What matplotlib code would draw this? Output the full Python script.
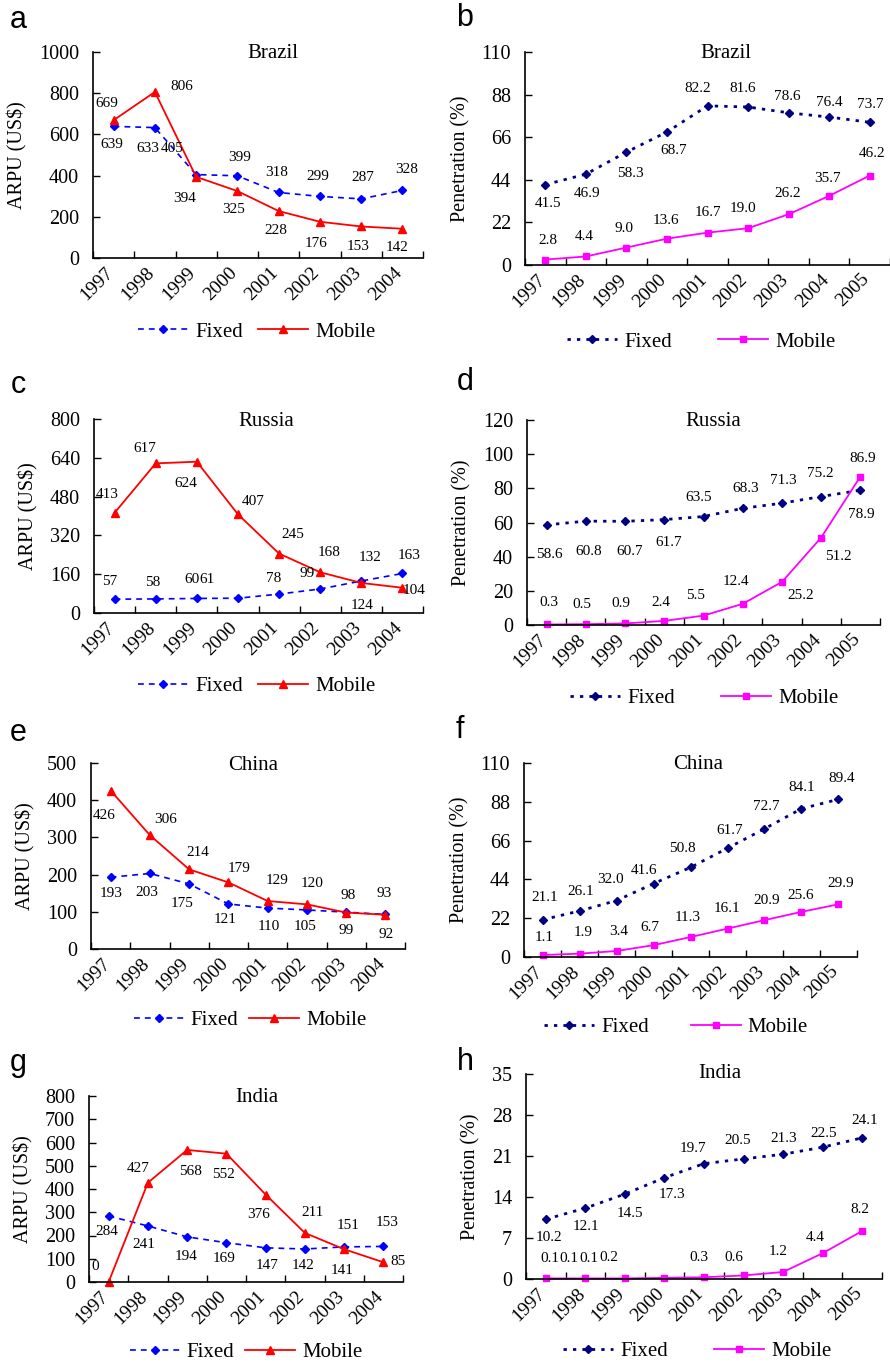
import numpy as np
import matplotlib.pyplot as plt
import matplotlib.transforms as mtransforms

plt.rcParams['font.family'] = ['Liberation Serif', 'DejaVu Serif']

W, H = 890, 1363

#Categories:
years_arpu = ['1997', '1998', '1999', '2000', '2001', '2002', '2003', '2004']
years_pen = ['1997', '1998', '1999', '2000', '2001', '2002', '2003', '2004', '2005']

#ARPU (US$):
brazil_arpu_fixed  = [639, 633, 405, 399, 318, 299, 287, 328]
brazil_arpu_mobile = [669, 806, 394, 325, 228, 176, 153, 142]
russia_arpu_fixed  = [57, 58, 60, 61, 78, 99, 132, 163]
russia_arpu_mobile = [413, 617, 624, 407, 245, 168, 124, 104]
china_arpu_fixed   = [193, 203, 175, 121, 110, 105, 99, 93]
china_arpu_mobile  = [426, 306, 214, 179, 129, 120, 98, 92]
india_arpu_fixed   = [284, 241, 194, 169, 147, 142, 151, 153]
india_arpu_mobile  = [0, 427, 568, 552, 376, 211, 141, 85]

#Penetration (%):
brazil_pen_fixed  = [41.5, 46.9, 58.3, 68.7, 82.2, 81.6, 78.6, 76.4, 73.7]
brazil_pen_mobile = [2.8, 4.4, 9.0, 13.6, 16.7, 19.0, 26.2, 35.7, 46.2]
russia_pen_fixed  = [58.6, 60.8, 60.7, 61.7, 63.5, 68.3, 71.3, 75.2, 78.9]
russia_pen_mobile = [0.3, 0.5, 0.9, 2.4, 5.5, 12.4, 25.2, 51.2, 86.9]
china_pen_fixed   = [21.1, 26.1, 32.0, 41.6, 50.8, 61.7, 72.7, 84.1, 89.4]
china_pen_mobile  = [1.1, 1.9, 3.4, 6.7, 11.3, 16.1, 20.9, 25.6, 29.9]
india_pen_fixed   = [10.2, 12.1, 14.5, 17.3, 19.7, 20.5, 21.3, 22.5, 24.1]
india_pen_mobile  = [0.1, 0.1, 0.1, 0.2, 0.3, 0.6, 1.2, 4.4, 8.2]

#Label offsets in pixels (dx, dy down):
off_a_f = [(-2,18),(-7,21),(-24,-26),(2,-18),(-2,-20),(-2,-20),(2,-21),(4,-21)]
off_a_m = [(-7,-17),(27,-5),(-12,22),(-4,18),(-3,19),(-4,22),(-3,20),(-5,19)]
off_b_f = [(3,19),(1,19),(4,21),(7,19),(-10,-17),(-5,-18),(-1,-16),(0,-15),(1,-18)]
off_b_m = [(3,-19),(-2,-20),(-2,-19),(-1,-18),(0,-20),(-5,-20),(-1,-21),(-2,-17),(2,-22)]
off_c_f = [(-5,-18),(-3,-16),(-5,-19),(-31,-19),(-5,-16),(-13,-15),(9,-23),(7,-18)]
off_c_m = [(-7,-18),(-11,-15),(-11,22),(15,-13),(14,-19),(9,-20),(1,23),(12,3)]
off_d_f = [(3,30),(3,30),(5,30),(4,23),(-5,-19),(3,-20),(1,-23),(-1,-23),(1,24)]
off_d_m = [(2,-22),(-4,-20),(-4,-20),(-3,-18),(-8,-20),(-7,-22),(19,14),(17,19),(2,-18)]
off_e_f = [(0,16),(-3,19),(-7,20),(-3,16),(1,18),(-2,17),(0,18),(-1,-21)]
off_e_m = [(-6,25),(16,-16),(9,-17),(11,-14),(9,-21),(5,-21),(2,-17),(1,20)]
off_f_f = [(2,-22),(1,-19),(-6,-21),(-9,-13),(-8,-19),(2,-18),(2,-22),(0,-21),(3,-21)]
off_f_m = [(2,-18),(4,-21),(2,-20),(-4,-18),(-3,-20),(-1,-20),(2,-20),(-1,-16),(2,-21)]
off_g_f = [(-2,16),(-4,19),(-1,20),(-2,16),(1,18),(-2,17),(4,-21),(4,-24)]
off_g_m = [(-13,-16),(-10,-14),(3,22),(-3,21),(-7,20),(8,-20),(-2,21),(15,-1)]
off_h_f = [(3,18),(1,18),(5,19),(8,17),(-11,-15),(-6,-18),(1,-16),(1,-14),(2,-17)]
off_h_m = [(4,-20),(-16,-20),(-36,-20),(-56,-20),(-5,-20),(-10,-18),(-5,-20),(-7,-16),(-2,-21)]

arpu_style_f = dict(color='#0000FF', linestyle=(0, (3.5, 3)), linewidth=1.2, marker='D', markersize=4.5)
arpu_style_m = dict(color='#FF0000', linestyle='-', linewidth=1.3, marker='^', markersize=6)
pen_style_f = dict(color='#000080', linestyle=(0, (1.2, 2.2)), linewidth=2.0, marker='D', markersize=4.5)
pen_style_m = dict(color='#FF00FF', linestyle='-', linewidth=1.3, marker='s', markersize=4.5)

# letter, rect(l,r,t,b px), years, fixed, mobile, ymax, ystep, ylabel, title, title pos, offsets, legend center, colspacing, letter pos
panels = [
    ('a', (93, 423, 52, 258), years_arpu, brazil_arpu_fixed, brazil_arpu_mobile, 1000, 200, 'ARPU (US$)', 'Brazil', (273, 54), off_a_f, off_a_m, (257, 332), 0.7, (18, 20)),
    ('b', (525, 890, 52, 265), years_pen, brazil_pen_fixed, brazil_pen_mobile, 110, 22, 'Penetration (%)', 'Brazil', (726, 53), off_b_f, off_b_m, (701, 342), 2.2, (465, 18)),
    ('c', (94, 423, 419, 613), years_arpu, russia_arpu_fixed, russia_arpu_mobile, 800, 160, 'ARPU (US$)', 'Russia', (266, 422), off_c_f, off_c_m, (257, 686), 0.7, (18, 385)),
    ('d', (527, 880, 420, 625), years_pen, russia_pen_fixed, russia_pen_mobile, 120, 20, 'Penetration (%)', 'Russia', (713, 421), off_d_f, off_d_m, (704, 698), 2.2, (465, 382)),
    ('e', (91, 405, 763, 949), years_arpu, china_arpu_fixed, china_arpu_mobile, 500, 100, 'ARPU (US$)', 'China', (253, 766), off_e_f, off_e_m, (250, 1020), 0.5, (18, 733)),
    ('f', (524, 857, 763, 957), years_pen, china_pen_fixed, china_pen_mobile, 110, 22, 'Penetration (%)', 'China', (698, 764), off_f_f, off_f_m, (676, 1027), 2.0, (460, 730)),
    ('g', (89, 403, 1096, 1282), years_arpu, india_arpu_fixed, india_arpu_mobile, 800, 100, 'ARPU (US$)', 'India', (257, 1098), off_g_f, off_g_m, (246, 1352), 0.5, (18, 1063)),
    ('h', (526, 882, 1074, 1279), years_pen, india_pen_fixed, india_pen_mobile, 35, 7, 'Penetration (%)', 'India', (720, 1074), off_h_f, off_h_m, (697, 1351), 2.2, (465, 1062)),
]

fig = plt.figure(figsize=(W / 100, H / 100), dpi=100)
shift = mtransforms.ScaledTranslation(-3 / 100, -2 / 100, fig.dpi_scale_trans)

for (letter, rect, years, fixed, mobile, ymax, ystep, ylabel, title, tpos,
     off_f, off_m, legpos, colsp, lpos) in panels:
    l, r, t, b = rect
    ax = fig.add_axes([l / W, 1 - b / H, (r - l) / W, (b - t) / H])
    x = np.arange(len(years))
    is_pen = ylabel.startswith('Pen')
    sf = pen_style_f if is_pen else arpu_style_f
    sm = pen_style_m if is_pen else arpu_style_m
    ax.plot(x, fixed, label='Fixed', clip_on=False, **sf)
    ax.plot(x, mobile, label='Mobile', clip_on=False, **sm)

    fmt = (lambda v: f'{v:.1f}') if is_pen else (lambda v: f'{v:d}')
    for xi, v, (dx, dy) in zip(x, fixed, off_f):
        ax.annotate(fmt(v), (xi, v), xytext=(dx, -dy), textcoords='offset pixels',
                    ha='center', va='center', fontsize=11)
    for xi, v, (dx, dy) in zip(x, mobile, off_m):
        ax.annotate(fmt(v), (xi, v), xytext=(dx, -dy), textcoords='offset pixels',
                    ha='center', va='center', fontsize=11)

    ax.set_xlim(-0.5, len(years) - 0.5)
    ax.set_ylim(0, ymax)
    ax.set_yticks(np.arange(0, ymax + ystep / 2, ystep))
    ax.set_xticks(x)
    ax.set_xticklabels(years)
    ax.set_xticks(np.arange(-0.5, len(years)), minor=True)
    ax.tick_params(axis='x', which='major', length=0, labelsize=14, pad=7)
    ax.tick_params(axis='x', which='minor', direction='in', length=5, width=1)
    ax.tick_params(axis='y', direction='in', length=5, width=1, labelsize=14.5, pad=10)
    for lbl in ax.get_xticklabels():
        lbl.set_rotation(45)
        lbl.set_ha('right')
        lbl.set_va('center')
        lbl.set_rotation_mode('anchor')
        lbl.set_transform(lbl.get_transform() + shift)
    for s in ['top', 'right']:
        ax.spines[s].set_visible(False)
    for s in ['left', 'bottom']:
        ax.spines[s].set_linewidth(1.2)
    ax.set_ylabel(ylabel, fontsize=14.5, labelpad=8)
    ax.patch.set_alpha(0)

    fig.text(tpos[0] / W, 1 - tpos[1] / H, title, ha='center', va='center', fontsize=15)
    fig.text(lpos[0] / W, 1 - lpos[1] / H, letter, ha='center', va='center', fontsize=22,
             family=['Liberation Sans', 'DejaVu Sans'])
    ax.legend(loc='center', bbox_to_anchor=(legpos[0] / W, 1 - legpos[1] / H),
              bbox_transform=fig.transFigure, ncol=2, frameon=False,
              prop={'family': ['Liberation Serif'], 'size': 15},
              handlelength=2.4, handletextpad=0.35, columnspacing=colsp, borderpad=0)

fig.savefig('out.png', dpi=100)
